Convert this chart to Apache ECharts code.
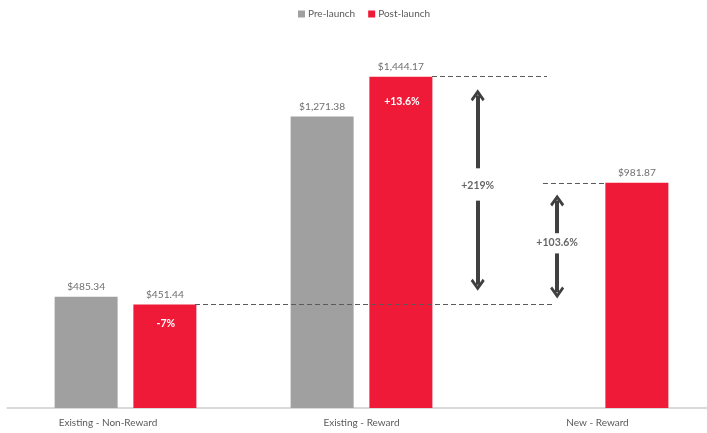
<!DOCTYPE html>
<html>
<head>
<meta charset="utf-8">
<script src="https://cdn.jsdelivr.net/npm/echarts@6/dist/echarts.min.js"></script>
<style>
  html, body { margin: 0; padding: 0; background: #fff; overflow: hidden; }
  /* canvas runs slightly past the right edge so the last category band is full width */
  #chart { width: 716px; height: 433px; }
</style>
</head>
<body>
<div id="chart"></div>
<script>
// Average spend per customer, before and after the launch
const categories = ['Existing - Non-Reward', 'Existing - Reward', 'New - Reward'];
const preLaunch = [485.34, 1271.38, null];
const postLaunch = [451.44, 1444.17, 981.87];
const postChangeLabels = ['-7%', '+13.6%', null];
const gapLabels = ['+219%', '+103.6%'];

// Annotation layout (x in category units on the overlay axis, y in value units)
const layout = {
  guides: [
    { x0: 0.2945, x1: 1.820, level: 0 },   // from Non-Reward post bar
    { x0: 1.2987, x1: 1.786, level: 1 },   // from Reward post bar
    { x0: 1.769, x1: 2.0347, level: 2 }    // into New-Reward bar
  ],
  arrows: [
    { x: 1.4924, top: 1363, gapTop: 1045, labelY: 968, gapBottom: 904, bottom: 537 },
    { x: 1.8290, top: 905, gapTop: 762, labelY: 722, gapBottom: 674, bottom: 504 }
  ],
  innerLabelOffsets: [19, 25]
};

const FONT = 'Lato';
const GRAY = '#a0a0a0';
const RED = '#ee1a37';
const DARK = '#404040';
const chevron = 'path://M7,0 L14,9 L12,11 L7,4.6 L2,11 L0,9 Z';

const money = v => '$' + v.toLocaleString('en-US', { minimumFractionDigits: 2, maximumFractionDigits: 2 });

const dashStyle = { type: [5, 3], color: '#5a5a5a', width: 1 };
const guideLines = layout.guides.map(g => [
  { coord: [g.x0, postLaunch[g.level]], lineStyle: dashStyle },
  { coord: [g.x1, postLaunch[g.level]] }
]);

const arrowLines = [];
layout.arrows.forEach(a => {
  arrowLines.push([{ coord: [a.x, a.gapTop], symbol: 'none' }, { coord: [a.x, a.top], symbol: chevron }]);
  arrowLines.push([{ coord: [a.x, a.gapBottom], symbol: 'none' }, { coord: [a.x, a.bottom], symbol: chevron }]);
});

const innerMarks = [];
postChangeLabels.forEach((t, i) => {
  if (t == null) return;
  innerMarks.push({
    name: t,
    coord: [categories[i], postLaunch[i]],
    label: { offset: [1, layout.innerLabelOffsets[i]] }
  });
});

const chart = echarts.init(document.getElementById('chart'), null, { renderer: 'canvas' });
chart.setOption({
  animation: false,
  backgroundColor: '#ffffff',
  textStyle: { fontFamily: FONT },
  legend: {
    data: ['Pre-launch', 'Post-launch'],
    top: 4,
    left: 293,
    icon: 'rect',
    itemWidth: 7,
    itemHeight: 7,
    itemGap: 13,
    textStyle: { fontFamily: FONT, fontSize: 10, color: '#595959', padding: [0, 0, 0, -2] }
  },
  grid: { left: 7.5, top: 41, width: 708, height: 367 },
  xAxis: [
    {
      type: 'category',
      data: categories.map((c, i) => i === 0
        ? { value: c, textStyle: { padding: [0, 35, 0, 0] } }
        : c),
      axisLine: { lineStyle: { color: '#d9d9d9', width: 2 } },
      axisTick: { show: false },
      axisLabel: { fontFamily: FONT, fontSize: 10, color: '#595959', margin: 10 }
    },
    { type: 'value', min: -0.5, max: 2.5, show: false }
  ],
  yAxis: { type: 'value', min: 0, max: 1600, show: false, splitLine: { show: false } },
  series: [
    {
      name: 'Pre-launch',
      type: 'bar',
      data: preLaunch,
      barWidth: 63,
      barGap: '25%',
      itemStyle: { color: GRAY },
      label: {
        show: true, position: 'top', distance: 5,
        fontFamily: FONT, fontSize: 10.2, color: '#6f6f6f',
        formatter: p => money(p.value)
      }
    },
    {
      name: 'Post-launch',
      type: 'bar',
      data: postLaunch,
      barWidth: 63,
      barGap: '25%',
      itemStyle: { color: RED },
      label: {
        show: true, position: 'top', distance: 5,
        fontFamily: FONT, fontSize: 10.2, color: '#6f6f6f',
        formatter: p => money(p.value)
      },
      markPoint: {
        silent: true,
        symbol: 'circle',
        symbolSize: 0,
        label: {
          show: true, position: 'inside', formatter: '{b}',
          fontFamily: FONT, fontSize: 10.5, fontWeight: 'bold', color: '#ffffff'
        },
        data: innerMarks
      }
    },
    {
      name: 'annotations',
      type: 'scatter',
      xAxisIndex: 1,
      symbolSize: 0,
      silent: true,
      data: layout.arrows.map((a, i) => ({ value: [a.x, a.labelY], name: gapLabels[i] })),
      label: {
        show: true, position: 'inside', formatter: '{b}',
        fontFamily: FONT, fontSize: 10.5, fontWeight: 'bold', color: DARK
      },
      markLine: {
        silent: true,
        animation: false,
        label: { show: false },
        symbol: 'none',
        symbolSize: [14, 12],
        lineStyle: { color: DARK, width: 4, type: 'solid' },
        data: guideLines.concat(arrowLines)
      }
    }
  ]
});
</script>
</body>
</html>
